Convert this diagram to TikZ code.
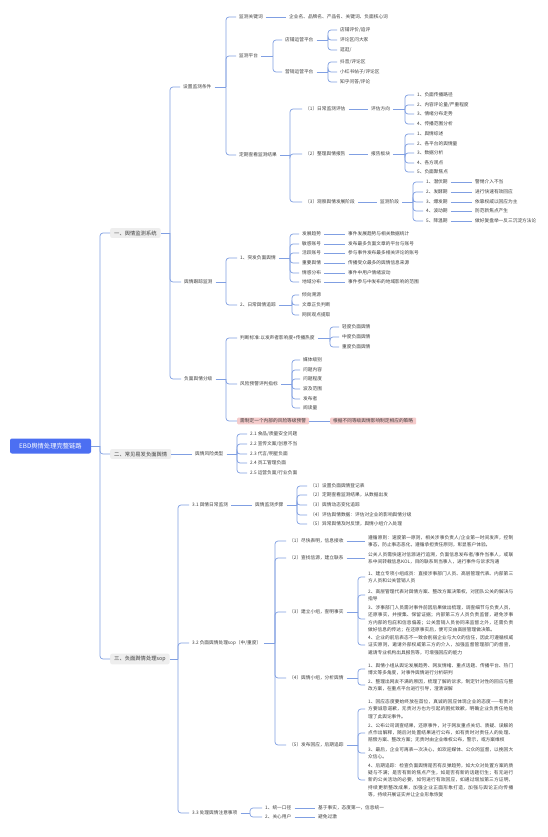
\documentclass[tikz,border=0pt]{standalone}
\usepackage{fontspec}
\setmainfont{Noto Sans CJK SC}
\XeTeXlinebreaklocale "zh"
\XeTeXlinebreakskip = 0pt plus 1pt
\definecolor{LinkBlue}{HTML}{809FE2}
\definecolor{RootBlue}{HTML}{4C6FF2}
\definecolor{TopicGray}{HTML}{EEEEEE}
\definecolor{TextGray}{HTML}{3E3E3E}
\definecolor{MarkPink}{HTML}{F5CBCB}

\begin{document}
\begin{tikzpicture}[x=1pt, y=-1pt,
  every node/.style={text=TextGray},
  rootbox/.style={fill=RootBlue, text=white, rounded corners=2pt, minimum width=81pt, minimum height=15pt, inner sep=2pt, font=\fontsize{6.3}{7}\selectfont},
  topic/.style={anchor=west, fill=TopicGray, rounded corners=2pt, inner xsep=4pt, inner ysep=2.5pt, font=\fontsize{5.3}{6}\selectfont},
  leaf/.style={anchor=west, xshift=-3pt, inner xsep=3pt, inner ysep=1.2pt, font=\fontsize{4.7}{5.6}\selectfont},
  para/.style={leaf, text width=145pt, align=justify, font=\fontsize{4.7}{7.3}\selectfont},
  pinkbox/.style={leaf, fill=MarkPink, rounded corners=1pt},
  link/.style={draw=LinkBlue, line width=0.7pt, rounded corners=3pt}]
\useasboundingbox (0,0) rectangle (548,837);
\fill[white] (0,0) rectangle (548,837);

% Root and main branches
\node[rootbox] (root) at (50.5,446) {EBD舆情处理完整链路};
\node[topic] (sys) at (110,233) {一、舆情监测系统};
\node[topic] (risk) at (110,454) {二、常见易发负面舆情};
\node[topic] (sop) at (110,659) {三、负面舆情处理sop};
\coordinate (root-b) at (100,446);
\draw[link] (root) -- (root-b);
\foreach \c in {sys,risk,sop} \draw[link] (root-b) |- (\c.west);

% Monitoring system
\node[leaf] (cond) at (183,87) {设置监测条件};
\node[leaf] (track) at (184,282) {舆情跟踪监测};
\node[leaf] (grade) at (184,379) {负面舆情分级};
\coordinate (sys-b) at (170,233);
\draw[link] (sys) -- (sys-b);
\foreach \c in {cond,track,grade} \draw[link] (sys-b) |- (\c.west);

% Monitoring conditions
\node[leaf] (kw) at (239,17) {监测关键词};
\node[leaf] (kw-t) at (289,17) {企业名、品牌名、产品名、关键词、负面核心词};
\node[leaf] (plat) at (239,56) {监测平台};
\node[leaf] (check) at (239,155) {定期查看监测结果};
\coordinate (cond-b) at (226,87);
\draw[link] (cond) -- (cond-b);
\foreach \c in {kw,plat,check} \draw[link] (cond-b) |- (\c.west);
\draw[link] (kw) -- (kw-t);

\node[leaf] (shop) at (285,40) {店铺运营平台};
\node[leaf] (mkt) at (285,72) {营销运营平台};
\coordinate (plat-b) at (273,56);
\draw[link] (plat) -- (plat-b);
\foreach \c in {shop,mkt} \draw[link] (plat-b) |- (\c.west);

\node[leaf] (sh-1) at (340,30) {店铺评价/追评};
\node[leaf] (sh-2) at (340,40) {评论区问大家};
\node[leaf] (sh-3) at (340,50) {逛逛/};
\coordinate (shop-b) at (328,40);
\draw[link] (shop) -- (shop-b);
\foreach \c in {sh-1,sh-2,sh-3} \draw[link] (shop-b) |- (\c.west);

\node[leaf] (mk-1) at (340,62) {抖音/评论区};
\node[leaf] (mk-2) at (340,72) {小红书帖子/评论区};
\node[leaf] (mk-3) at (340,82) {知乎问答/评论};
\coordinate (mkt-b) at (328,72);
\draw[link] (mkt) -- (mkt-b);
\foreach \c in {mk-1,mk-2,mk-3} \draw[link] (mkt-b) |- (\c.west);

% Checking the results
\node[leaf] (daily) at (305,109) {（1）日常监测评估};
\node[leaf] (report) at (305,154) {（2）整理舆情报告};
\node[leaf] (stage) at (305,202) {（3）观察舆情发展阶段};
\coordinate (check-b) at (290,155);
\draw[link] (check) -- (check-b);
\foreach \c in {daily,report,stage} \draw[link] (check-b) |- (\c.west);

\node[leaf] (dir) at (371,109) {评估方向};
\draw[link] (daily) -- (dir);
\node[leaf] (dir-1) at (417,95) {1、负面传播路径};
\node[leaf] (dir-2) at (417,105) {2、内容评论量/严重程度};
\node[leaf] (dir-3) at (417,114) {3、情绪分布走势};
\node[leaf] (dir-4) at (417,124) {4、传播范围分析};
\coordinate (dir-b) at (405,109);
\draw[link] (dir) -- (dir-b);
\foreach \c in {dir-1,dir-2,dir-3,dir-4} \draw[link] (dir-b) |- (\c.west);

\node[leaf] (rsec) at (371,154) {报告板块};
\draw[link] (report) -- (rsec);
\node[leaf] (rs-1) at (417,134) {1、舆情综述};
\node[leaf] (rs-2) at (417,144) {2、各平台的舆情量};
\node[leaf] (rs-3) at (417,153) {3、数据分析};
\node[leaf] (rs-4) at (417,163) {4、各方观点};
\node[leaf] (rs-5) at (417,172) {5、负面聚焦点};
\coordinate (rsec-b) at (405,154);
\draw[link] (rsec) -- (rsec-b);
\foreach \c in {rs-1,rs-2,rs-3,rs-4,rs-5} \draw[link] (rsec-b) |- (\c.west);

\node[leaf] (phase) at (380,202) {监测阶段};
\draw[link] (stage) -- (phase);
\node[leaf] (ph-1) at (426,182) {1、潜伏期};
\node[leaf] (ph-2) at (426,192) {2、发酵期};
\node[leaf] (ph-3) at (426,202) {3、爆发期};
\node[leaf] (ph-4) at (426,211) {4、波动期};
\node[leaf] (ph-5) at (426,221) {5、降温期};
\node[leaf] (ph-1t) at (475,182) {警惕介入不当};
\node[leaf] (ph-2t) at (475,192) {进行快速有效回应};
\node[leaf] (ph-3t) at (475,202) {依靠权威以回应为主};
\node[leaf] (ph-4t) at (475,211) {防范新焦点产生};
\node[leaf] (ph-5t) at (475,221) {做好复盘举一反三沉淀方法论};
\coordinate (phase-b) at (413,202);
\draw[link] (phase) -- (phase-b);
\foreach \c in {1,...,5} {
  \draw[link] (phase-b) |- (ph-\c.west);
  \draw[link] (ph-\c) -- (ph-\c t);
}

% Tracking
\node[leaf] (burst) at (240,258) {1、突发负面舆情};
\node[leaf] (routine) at (240,305) {2、日常舆情追踪};
\coordinate (track-b) at (226,282);
\draw[link] (track) -- (track-b);
\foreach \c in {burst,routine} \draw[link] (track-b) |- (\c.west);

\node[leaf] (bu-1) at (302,234) {发展趋势};
\node[leaf] (bu-2) at (302,244) {敏感账号};
\node[leaf] (bu-3) at (302,253) {活跃账号};
\node[leaf] (bu-4) at (302,263) {重要舆情};
\node[leaf] (bu-5) at (302,273) {情感分布};
\node[leaf] (bu-6) at (302,282) {地域分布};
\node[leaf] (bu-1t) at (348,234) {事件发展趋势与相关数据统计};
\node[leaf] (bu-2t) at (348,244) {发布最多负面文章的平台与账号};
\node[leaf] (bu-3t) at (348,253) {参与事件发布最多相关评论的账号};
\node[leaf] (bu-4t) at (348,263) {传播受众最多的舆情信息来源};
\node[leaf] (bu-5t) at (348,273) {事件中用户情绪波动};
\node[leaf] (bu-6t) at (348,282) {事件参与中发布的地域影响的范围};
\coordinate (burst-b) at (290,258);
\draw[link] (burst) -- (burst-b);
\foreach \c in {1,...,6} {
  \draw[link] (burst-b) |- (bu-\c.west);
  \draw[link] (bu-\c) -- (bu-\c t);
}

\node[leaf] (ro-1) at (302,295) {倾向溯源};
\node[leaf] (ro-2) at (302,305) {文章正负判断};
\node[leaf] (ro-3) at (302,315) {网民观点提取};
\coordinate (routine-b) at (292,305);
\draw[link] (routine) -- (routine-b);
\foreach \c in {ro-1,ro-2,ro-3} \draw[link] (routine-b) |- (\c.west);

% Grading
\node[leaf] (std) at (240,338) {判断标准:以发声者影响度+传播热度};
\node[leaf] (warn) at (240,384) {风险预警评判指标};
\node[pinkbox] (inner) at (240,421) {需制定一个内部的风险等级预警};
\coordinate (grade-b) at (226,379);
\draw[link] (grade) -- (grade-b);
\foreach \c in {std,warn,inner} \draw[link] (grade-b) |- (\c.west);

\node[leaf] (lv-1) at (342,327) {轻度负面舆情};
\node[leaf] (lv-2) at (342,337) {中度负面舆情};
\node[leaf] (lv-3) at (342,347) {重度负面舆情};
\coordinate (std-b) at (330,338);
\draw[link] (std) -- (std-b);
\foreach \c in {lv-1,lv-2,lv-3} \draw[link] (std-b) |- (\c.west);

\node[leaf] (wi-1) at (303,360) {媒体级别};
\node[leaf] (wi-2) at (303,370) {问题内容};
\node[leaf] (wi-3) at (303,379) {问题程度};
\node[leaf] (wi-4) at (303,389) {波及范围};
\node[leaf] (wi-5) at (303,399) {发布者};
\node[leaf] (wi-6) at (303,408) {阅读量};
\coordinate (warn-b) at (292,384);
\draw[link] (warn) -- (warn-b);
\foreach \c in {1,...,6} \draw[link] (warn-b) |- (wi-\c.west);

\node[pinkbox] (inner-t) at (333,421) {根据不同等级舆情影响制定相应的策略};
\draw[link] (inner) -- (inner-t);

% Common negative topics
\node[leaf] (rtype) at (195,454) {舆情风险类型};
\draw[link] (risk) -- (rtype);
\node[leaf] (ty-1) at (250,434) {2.1 食品/质量安全问题};
\node[leaf] (ty-2) at (250,444) {2.2 宣传文案/创意不当};
\node[leaf] (ty-3) at (250,454) {2.3 代言/明星负面};
\node[leaf] (ty-4) at (250,463) {2.4 员工管理负面};
\node[leaf] (ty-5) at (250,473) {2.5 运营负面/行业负面};
\coordinate (rtype-b) at (237,454);
\draw[link] (rtype) -- (rtype-b);
\foreach \c in {1,...,5} \draw[link] (rtype-b) |- (ty-\c.west);

% SOP
\node[leaf] (daymon) at (192,505) {3.1 舆情日常监测};
\node[leaf] (handle) at (192,643) {3.2 负面舆情处理sop（中/重度）};
\node[leaf] (notes) at (192,813) {3.3 处理舆情注意事项};
\coordinate (sop-b) at (178,659);
\draw[link] (sop) -- (sop-b);
\foreach \c in {daymon,handle,notes} \draw[link] (sop-b) |- (\c.west);

\node[leaf] (steps) at (255,505) {舆情监测步骤};
\draw[link] (daymon) -- (steps);
\node[leaf] (st-1) at (310,486) {（1）设置负面舆情登记表};
\node[leaf] (st-2) at (310,495) {（2）定期查看监测结果，从数据出发};
\node[leaf] (st-3) at (310,505) {（3）舆情动态变化追踪};
\node[leaf] (st-4) at (310,515) {（4）评估舆情数据：评估对企业的影响舆情分级};
\node[leaf] (st-5) at (310,524) {（5）异常舆情及时反馈，舆情小组介入处理};
\coordinate (steps-b) at (297,505);
\draw[link] (steps) -- (steps-b);
\foreach \c in {1,...,5} \draw[link] (steps-b) |- (st-\c.west);

% Handling steps
\node[leaf] (h1) at (289,541) {（1）尽快表明，信息接收};
\node[leaf] (h2) at (289,558) {（2）查找信源，建立联系};
\node[leaf] (h3) at (289,612) {（3）建立小组，查明事实};
\node[leaf] (h4) at (289,678) {（4）舆情小组，分析舆情};
\node[leaf] (h5) at (289,745) {（5）发布回应，后期追踪};
\coordinate (handle-b) at (275,643);
\draw[link] (handle) -- (handle-b);
\foreach \c in {h1,h2,h3,h4,h5} \draw[link] (handle-b) |- (\c.west);

\node[para] (h1-p) at (368,541) {遵循原则：速度第一原则，相关涉事负责人/企业第一时间发声，控制事态，防止事态恶化，遵循承担责任原则，彰显客户体验。};
\draw[link] (h1) -- (h1-p);
\node[para] (h2-p) at (368,558) {公关人员需快速对信源进行追溯，负面信息发布者/事件当事人，或联系中间转载信息KOL，目的联系到当事人，进行事件与诉求沟通};
\draw[link] (h2) -- (h2-p);

\node[para] (h3-1) at (368,577) {1、建立专项小组成员：直接涉事部门人员、高层管理代表、内部第三方人员和公关营销人员};
\node[para] (h3-2) at (368,595) {2、高层管理代表对舆情方案、整改方案决策权，对团队公关的解决与指导};
\node[para] (h3-3) at (368,619) {3、涉事部门人员需对事件前因后果做出梳理，调查细节与负责人员，还原事实，并搜集、保留证据；内部第三方人员负责监督，避免涉事方内部的包庇和信息偏差；公关营销人员协同来监督之外，还需负责做好信息的传达；在还原事实后，便可交由高层管理做决策。};
\node[para] (h3-4) at (368,645) {4、企业的前后表态不一致会削弱企业与大众的信任，因此可遵循权威证实原则，邀请外部权威第三方的介入，加强监督管理部门的督查，邀请专业机构出具报告等，可增强回应的能力};
\coordinate (h3-b) at (358,612);
\draw[link] (h3) -- (h3-b);
\foreach \c in {1,...,4} \draw[link] (h3-b) |- (h3-\c.west);

\node[para] (h4-1) at (368,669) {1、舆情小组从舆论发展趋势、网友情绪、重点话题、传播平台、热门博文等多角度，对事件舆情进行分析研判};
\node[para] (h4-2) at (368,685) {2、整理出网友不满的原因，梳理了解的诉求，制定针对性的回应与整改方案，在重点平台进行引导，澄清误解};
\coordinate (h4-b) at (358,678);
\draw[link] (h4) -- (h4-b);
\foreach \c in {1,2} \draw[link] (h4-b) |- (h4-\c.west);

\node[para] (h5-1) at (368,709) {1、回应态度要始终放在首位，真诚的回应体现企业的态度——有责对方要诚恳道歉，无责对方也为引起的困扰致歉，明确企业负责任地处理了此舆论事件。};
\node[para] (h5-2) at (368,733) {2、公布公司调查结果，还原事件，对于网友重点关切、质疑、误解的点作出解释，随后对处置结果进行公布，如有责时对责任人的处理、赔偿方案、整改方案；无责时由企业维权公布，警示，或方案维权};
\node[para] (h5-3) at (368,753) {3、最后，企业可再表一次决心，如欢迎媒体、公众的监督，以挽回大众信心。};
\node[para] (h5-4) at (368,780) {4、后期追踪：检查负面舆情是否有反弹趋势，如大众对处置方案的质疑与不满；是否有新的焦点产生，如是否有新的话题衍生；有无进行新的公关活动的必要，如何进行有效回应，如通过增加第三方证明，持续更新整改成果，加强企业正面形象打造，加强与舆论正向传播等，持续开展证实并让企业形象恢复};
\coordinate (h5-b) at (358,745);
\draw[link] (h5) -- (h5-b);
\foreach \c in {1,...,4} \draw[link] (h5-b) |- (h5-\c.west);

% Notes
\node[leaf] (n1) at (265,808) {1、统一口径};
\node[leaf] (n2) at (265,817) {2、关心用户};
\node[leaf] (n1-t) at (318,808) {基于事实，态度第一，信息统一};
\node[leaf] (n2-t) at (318,817) {避免过激};
\coordinate (notes-b) at (250,813);
\draw[link] (notes) -- (notes-b);
\foreach \c in {n1,n2} \draw[link] (notes-b) |- (\c.west);
\draw[link] (n1) -- (n1-t);
\draw[link] (n2) -- (n2-t);
\end{tikzpicture}
\end{document}
